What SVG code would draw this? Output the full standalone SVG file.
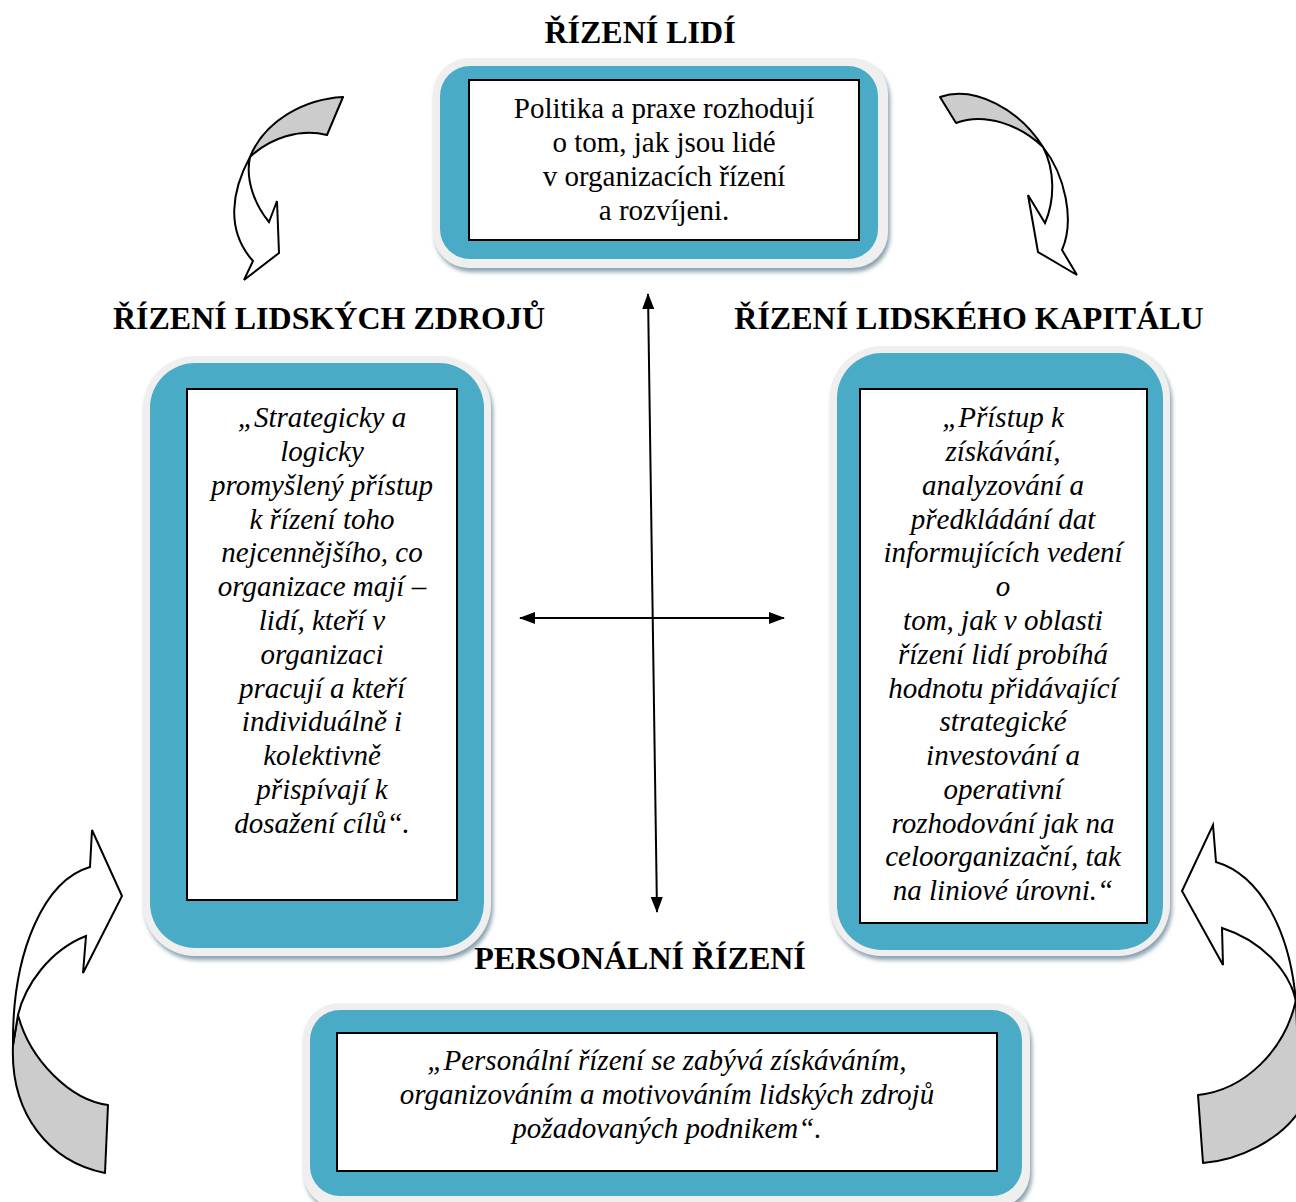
<svg xmlns="http://www.w3.org/2000/svg" width="1296" height="1202" viewBox="0 0 1296 1202">
<style>
.title{font-family:'Liberation Serif','Times New Roman','DejaVu Serif',serif;font-weight:bold;font-size:32px;fill:#000;text-anchor:middle}
.body{font-family:'Liberation Serif','Times New Roman','DejaVu Serif',serif;font-size:29px;fill:#000;text-anchor:middle}
.it{font-style:italic}
.frame{fill:#efefef;filter:url(#sh)}
.teal{fill:#4aabc6}
.inner{fill:#fff;stroke:#000;stroke-width:2}
.conn{stroke:#000;stroke-width:2;fill:none}
.grey{fill:#cccccc;stroke:#000;stroke-width:2;stroke-linejoin:round}
.white{fill:#fff;stroke:#000;stroke-width:2;stroke-linejoin:miter}
</style>
<defs>
<filter id="sh" x="-5%" y="-5%" width="115%" height="115%">
<feDropShadow dx="2" dy="4" stdDeviation="2" flood-color="#7d97a5" flood-opacity="0.9"/>
</filter>
<marker id="ah2" viewBox="0 0 16 12" refX="15" refY="6" markerWidth="16" markerHeight="12" markerUnits="userSpaceOnUse" orient="auto-start-reverse">
<path d="M0,0 L16,6 L0,12 Z" fill="#000"/>
</marker>
</defs>
<rect width="1296" height="1202" fill="#fff"/>

<g id="curved-arrows">
<g id="arrow-top-left">
<path class="grey" d="M343,97 C305,99 265,120 250,157 C270,138 300,128 327,135 Z"/>
<path class="white" d="M250,157 C232,190 225,230 253,261 L244,280 L279,253 L277,201 L269,222 C255,205 245,180 250,157 Z"/>
</g>
<g id="arrow-top-right">
<path class="grey" d="M940,97 C975,85 1020,110 1043,147 C1020,125 985,112 956,123 Z"/>
<path class="white" d="M1043,147 C1065,175 1075,220 1062,250 L1077,275 L1038,252 L1028,195 L1045,223 C1055,200 1055,170 1043,147 Z"/>
</g>
<g id="arrow-bottom-left">
<path class="grey" d="M18,1015 C30,1060 70,1100 108,1105 L105,1173 C50,1162 10,1115 13,1045 Z"/>
<path class="white" d="M13,1045 C12,950 45,880 90,867 L92,830 L122,896 L83,973 L86,936 C50,950 25,985 18,1015 Z"/>
</g>
<g id="arrow-bottom-right">
<path class="grey" d="M1296,1000 C1285,1050 1245,1090 1198,1095 L1203,1163 C1240,1160 1280,1140 1300,1110 Z"/>
<path class="white" d="M1296,1002 C1290,930 1260,875 1216,862 L1213,825 L1182,891 L1223,965 L1222,928 C1260,940 1290,970 1296,1002 Z"/>
</g>
</g>

<g id="connectors">
<line class="conn" x1="648" y1="294" x2="657" y2="912" marker-start="url(#ah2)" marker-end="url(#ah2)"/>
<line class="conn" x1="520" y1="618" x2="784" y2="618" marker-start="url(#ah2)" marker-end="url(#ah2)"/>
</g>

<g id="node-top">
<text class="title" x="640" y="43">ŘÍZENÍ LIDÍ</text>
<rect class="frame" x="433" y="58" width="455" height="210" rx="36"/>
<rect class="teal" x="440" y="66" width="438" height="193" rx="30"/>
<rect class="inner" x="469" y="80" width="390" height="160"/>
<text class="body" x="664" y="118">Politika a praxe rozhodují</text>
<text class="body" x="664" y="152">o tom, jak jsou lidé</text>
<text class="body" x="664" y="186">v organizacích řízení</text>
<text class="body" x="664" y="220">a rozvíjeni.</text>
</g>

<g id="node-left">
<text class="title" x="329" y="329">ŘÍZENÍ LIDSKÝCH ZDROJŮ</text>
<rect class="frame" x="143" y="356" width="348" height="600" rx="52"/>
<rect class="teal" x="150" y="363" width="334" height="585" rx="45"/>
<rect class="inner" x="187" y="389" width="270" height="511"/>
<g class="body it">
<text x="322" y="427">„Strategicky a</text>
<text x="322" y="461">logicky</text>
<text x="322" y="495">promyšlený přístup</text>
<text x="322" y="529">k řízení toho</text>
<text x="322" y="562">nejcennějšího, co</text>
<text x="322" y="596">organizace mají –</text>
<text x="322" y="630">lidí, kteří v</text>
<text x="322" y="664">organizaci</text>
<text x="322" y="698">pracují a kteří</text>
<text x="322" y="731">individuálně i</text>
<text x="322" y="765">kolektivně</text>
<text x="322" y="799">přispívají k</text>
<text x="322" y="833">dosažení cílů“.</text>
</g>
</g>

<g id="node-right">
<text class="title" x="969" y="329">ŘÍZENÍ LIDSKÉHO KAPITÁLU</text>
<rect class="frame" x="830" y="346" width="340" height="610" rx="52"/>
<rect class="teal" x="837" y="353" width="326" height="597" rx="45"/>
<rect class="inner" x="860" y="389" width="287" height="534"/>
<g class="body it">
<text x="1003" y="427">„Přístup k</text>
<text x="1003" y="461">získávání,</text>
<text x="1003" y="495">analyzování a</text>
<text x="1003" y="529">předkládání dat</text>
<text x="1003" y="562">informujících vedení</text>
<text x="1003" y="596">o</text>
<text x="1003" y="630">tom, jak v oblasti</text>
<text x="1003" y="664">řízení lidí probíhá</text>
<text x="1003" y="698">hodnotu přidávající</text>
<text x="1003" y="731">strategické</text>
<text x="1003" y="765">investování a</text>
<text x="1003" y="799">operativní</text>
<text x="1003" y="833">rozhodování jak na</text>
<text x="1003" y="866">celoorganizační, tak</text>
<text x="1003" y="900">na liniové úrovni.“</text>
</g>
</g>

<g id="node-bottom">
<text class="title" x="640" y="969">PERSONÁLNÍ ŘÍZENÍ</text>
<rect class="frame" x="303" y="1003" width="727" height="205" rx="36"/>
<rect class="teal" x="310" y="1010" width="712" height="186" rx="30"/>
<rect class="inner" x="337" y="1033" width="660" height="138"/>
<g class="body it">
<text x="667" y="1070">„Personální řízení se zabývá získáváním,</text>
<text x="667" y="1104">organizováním a motivováním lidských zdrojů</text>
<text x="667" y="1138">požadovaných podnikem“.</text>
</g>
</g>
</svg>
